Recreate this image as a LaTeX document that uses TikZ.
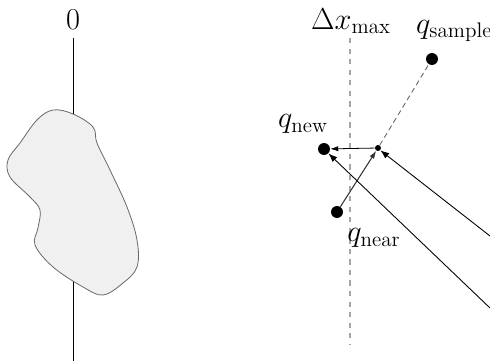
\documentclass[tikz,border=0pt]{standalone}
\usepackage{amsmath}
\usepackage{tikz}
\usetikzlibrary{
  arrows.meta,  % Latex 箭头
  positioning   % 节点相对定位
}
\tikzset{
  axis line/.style={
    line width=0.45pt,
    color=black
  },
  limit line/.style={
    dashed,
    line width=0.6pt,
    color=gray!70
  },
  obstacle/.style={
    fill=gray!12,
    draw=black!60,
    line width=0.45pt
  },
  big dot/.style={
    circle,
    fill=black,
    inner sep=0pt,
    minimum size=6.8pt
  },
  small dot/.style={
    circle,
    fill=black,
    inner sep=0pt,
    minimum size=3.4pt
  },
  pointer/.style={
    -{Latex[length=5pt,width=3.8pt]},
    line width=0.5pt
  },
  point label/.style={
    font=\LARGE
  }
}

\begin{document}
\begin{tikzpicture}[x=0.02cm, y=-0.02cm]
    \useasboundingbox (0,0) rectangle (490,361);

    % --- 左侧：轴线与障碍物 ---
    \coordinate (axtop) at (73,38);
    \coordinate (axbot) at (73,361);
    \draw[axis line] (axtop) -- (axbot);
    \node[point label] (zero) at (73,20) {$0$};

    \draw[obstacle] plot[smooth cycle, tension=0.6] coordinates {
      (53,110) (73,114) (93,127) (97,143) (110,170) (127,207)
      (137,240) (137,267) (123,283) (103,295) (83,287) (53,267)
      (35,245) (38,228) (40,210) (30,197) (10,177) (8,160)
      (20,143) (37,120)
    };

    % --- 右侧：步长限制 ---
    \coordinate (limtop) at (350,38);
    \coordinate (limbot) at (350,345);
    \draw[limit line] (limtop) -- (limbot);
    \node[point label] (dxmax) at (351,21) {$\Delta x_{\max}$};

    % 采样点
    \node[big dot]   (qsample) at (432,59)  {};
    \node[small dot] (qmid)    at (378,148) {};
    \node[big dot]   (qnew)    at (324,149) {};
    \node[big dot]   (qnear)   at (337,212) {};

    \node[point label, anchor=west] (lsample) at (410,31) {$q_{\text{sample}}$};
    \node[point label] (lnew)  at (303,124) {$q_{\text{new}}$};
    \node[point label] (lnear) at (374,238) {$q_{\text{near}}$};

    \draw[densely dashed, gray!80!black, line width=0.5pt] (qmid) -- (qsample);
    \draw[-{Latex[length=4.5pt,width=3pt]}, gray!40!black, line width=0.6pt] (qnear) -- (qmid);
    \draw[-{Latex[length=4.5pt,width=3pt]}, line width=0.45pt] (qmid) -- (qnew);

    % 指向箭头（起点在画面外）
    \coordinate (src1) at (490,236);
    \coordinate (src2) at (490,308);
    \draw[pointer] (src1) -- (qmid.south east);
    \draw[pointer] (src2) -- (qnew.south east);

\end{tikzpicture}
\end{document}
